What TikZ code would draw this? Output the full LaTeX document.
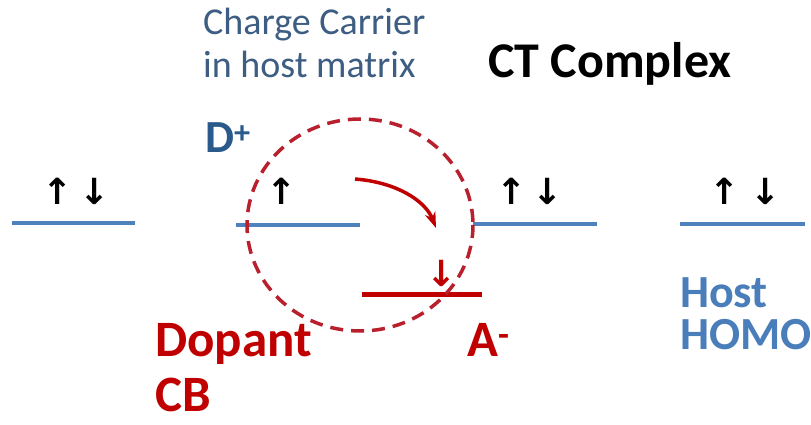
\documentclass[tikz,border=0pt]{standalone}
\usepackage{fontspec}
\usetikzlibrary{arrows.meta}
\setmainfont{Carlito}
\newfontfamily\arrowfont{DejaVu Sans}
\definecolor{levelblue}{HTML}{4F81BD}
\definecolor{hostblue}{HTML}{4A7EBB}
\definecolor{donorblue}{HTML}{2A5A8C}
\definecolor{noteblue}{HTML}{3D5D82}
\definecolor{dopred}{HTML}{C00000}
\definecolor{ringred}{HTML}{B8202E}
\tikzset{
  level/.style={draw=levelblue, line width=4pt},
  spin/.style={inner sep=0pt, anchor=south, font=\arrowfont\bfseries\fontsize{36}{36}\selectfont},
  lbl/.style={inner sep=0pt, anchor=base west}
}
\begin{document}
\begin{tikzpicture}[x=1pt, y=-1pt]
\useasboundingbox (0,0) rectangle (811,425);
% energy levels
\draw [level] (12,223) -- (135,223);
\draw [level] (236,225) -- (360,225);
\draw [level] (473,224) -- (597,224);
\draw [level] (680,224) -- (805,224);
\draw [draw=dopred, line width=5pt] (362,294) -- (482,294);
% spins
\node [spin] (s1u) at (58,205) {↑};
\node [spin] (s1d) at (95,205) {↓};
\node [spin] (s2u) at (282,205) {↑};
\node [spin] (s3u) at (512,205) {↑};
\node [spin] (s3d) at (548,205) {↓};
\node [spin] (s4u) at (725,205) {↑};
\node [spin] (s4d) at (766,205) {↓};
\node [spin, text=dopred] (sa) at (442,287) {↓};
% CT complex ring
\draw [ringred, line width=3.5pt, dash pattern=on 13pt off 8pt] (360,225) ellipse [x radius=113, y radius=106];
\coordinate (hopfrom) at (355,179);
\coordinate (hopto) at (436,228);
\draw [dopred, line width=3.5pt, -{Stealth[length=16pt,width=11pt]}] (hopfrom) .. controls (395,182) and (425,200) .. (hopto);
% labels
\node [lbl, text=noteblue, font=\fontsize{38}{38}\selectfont] (cc) at (203,35) {Charge Carrier};
\node [lbl, text=noteblue, font=\fontsize{38}{38}\selectfont] (hm) at (203,78) {in host matrix};
\node [lbl, font=\bfseries\fontsize{50}{50}\selectfont] (ct) at (488,78) {CT Complex};
\node [lbl, text=donorblue, font=\bfseries\fontsize{46}{46}\selectfont] (dp) at (205,153) {D\textsuperscript{+}};
\node [lbl, text=dopred, font=\bfseries\fontsize{51}{51}\selectfont] (dop) at (155,356) {Dopant};
\node [lbl, text=dopred, font=\bfseries\fontsize{51}{51}\selectfont] (cb) at (155,411) {CB};
\node [lbl, text=dopred, font=\bfseries\fontsize{51}{51}\selectfont] (am) at (467,356) {A\textsuperscript{-}};
\node [lbl, text=hostblue, font=\bfseries\fontsize{46}{46}\selectfont] (host) at (680,307) {Host};
\node [lbl, text=hostblue, font=\bfseries\fontsize{46}{46}\selectfont] (homo) at (680,349) {HOMO};
\end{tikzpicture}
\end{document}
